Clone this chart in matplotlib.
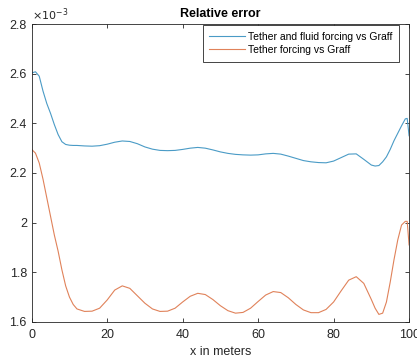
import matplotlib.pyplot as plt
from matplotlib.ticker import FormatStrFormatter

# x positions (m) and relative errors (in units of 1e-3)
x = [0, 1, 2, 3, 4, 5, 6, 7, 8, 9, 10, 11, 12, 14, 16, 18, 20, 22, 24, 26, 28,
     30, 32, 34, 36, 38, 40, 42, 44, 46, 48, 50, 52, 54, 56, 58, 60, 62, 64,
     66, 68, 70, 72, 74, 76, 78, 80, 82, 84, 86, 88, 90, 91, 92, 93, 94, 95,
     96, 97, 98, 99, 99.5, 100]

fluid = [2.603, 2.608, 2.59, 2.53, 2.48, 2.44, 2.395, 2.355, 2.326, 2.315,
         2.312, 2.311, 2.311, 2.309, 2.308, 2.310, 2.316, 2.324, 2.329, 2.327,
         2.318, 2.305, 2.296, 2.291, 2.290, 2.291, 2.295, 2.300, 2.303, 2.300,
         2.293, 2.285, 2.279, 2.275, 2.273, 2.272, 2.273, 2.277, 2.279, 2.276,
         2.268, 2.259, 2.250, 2.245, 2.242, 2.241, 2.248, 2.262, 2.276, 2.277,
         2.255, 2.232, 2.228, 2.230, 2.245, 2.265, 2.295, 2.33, 2.36, 2.39,
         2.418, 2.42, 2.35]

tether = [2.295, 2.28, 2.24, 2.175, 2.10, 2.025, 1.95, 1.885, 1.81, 1.745,
          1.70, 1.67, 1.652, 1.642, 1.643, 1.655, 1.688, 1.728, 1.745, 1.735,
          1.705, 1.675, 1.652, 1.642, 1.643, 1.655, 1.680, 1.703, 1.715, 1.710,
          1.690, 1.665, 1.645, 1.635, 1.638, 1.655, 1.682, 1.708, 1.722, 1.718,
          1.697, 1.670, 1.648, 1.637, 1.637, 1.650, 1.680, 1.725, 1.768, 1.782,
          1.755, 1.69, 1.655, 1.630, 1.635, 1.68, 1.76, 1.85, 1.93, 1.99,
          2.005, 2.005, 1.91]

labels = ["Tether and fluid forcing vs Graff", "Tether forcing vs Graff"]

grey = "#262626"
plt.rcParams['font.family'] = ['Liberation Sans', 'DejaVu Sans']

fig = plt.figure(figsize=(4.17, 3.6), dpi=100)
ax = fig.add_axes([0.076, 0.106, 0.905, 0.827])

ax.plot(x, fluid, color="#4a9bc6", lw=0.8, label=labels[0])
ax.plot(x, tether, color="#e0825a", lw=0.8, label=labels[1])

ax.set_xlim(0, 100)
ax.set_ylim(1.6, 2.8)
ax.set_xticks(range(0, 101, 20))
ax.set_yticks([1.6, 1.8, 2.0, 2.2, 2.4, 2.6, 2.8])
ax.yaxis.set_major_formatter(FormatStrFormatter('%g'))
ax.tick_params(direction='in', top=True, right=True, length=3, width=0.6,
               colors=grey, labelsize=9)
ax.tick_params(axis='x', pad=5)
for s in ax.spines.values():
    s.set_color(grey)
    s.set_linewidth(0.6)

ax.text(0.0, 1.005, r"$\times10^{-3}$", transform=ax.transAxes, fontsize=8,
        color=grey, ha='left', va='bottom')
ax.set_title("Relative error", fontsize=9, fontweight='bold', pad=5)
ax.set_xlabel("x in meters", fontsize=9, color=grey, labelpad=4)

leg = ax.legend(loc='upper right', bbox_to_anchor=(0.9735, 0.9966),
                borderaxespad=0, fontsize=7.5, fancybox=False, framealpha=1,
                edgecolor=grey, handlelength=3.4, handletextpad=0.3,
                borderpad=0.65, labelspacing=0.28)
leg.get_frame().set_linewidth(0.6)

fig.savefig("out.png", dpi=100)
